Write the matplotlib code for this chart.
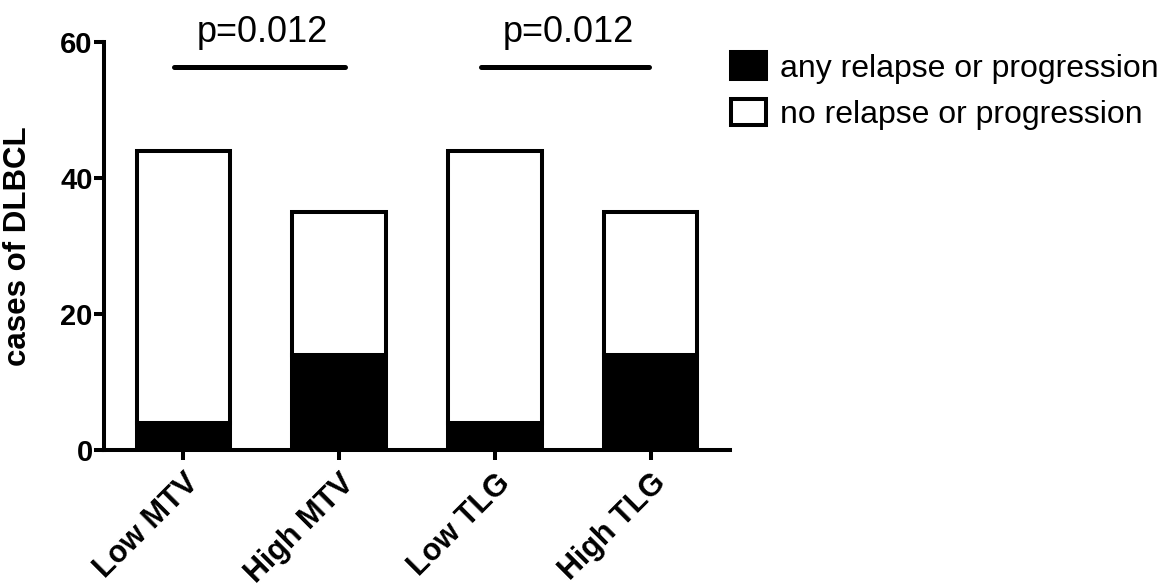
import matplotlib.pyplot as plt
from matplotlib.patches import Patch

plt.rcParams['font.family'] = ['Liberation Sans', 'DejaVu Sans']

# data
groups = ['Low MTV', 'High MTV', 'Low TLG', 'High TLG']
relapse = [4, 14, 4, 14]
no_relapse = [40, 21, 40, 21]
p_labels = ['p=0.012', 'p=0.012']
p_spans = [(-0.06, 1.04), (1.91, 2.99)]
p_y = 56.3

fig = plt.figure(figsize=(11.67, 5.87), dpi=100)
ax = fig.add_axes([0.0891, 0.2334, 0.5364, 0.695])

x = list(range(len(groups)))
ax.bar(x, relapse, width=0.6, color='black', edgecolor='black', linewidth=2.9, zorder=2)
ax.bar(x, no_relapse, bottom=relapse, width=0.6, color='white', edgecolor='black',
       linewidth=2.9, zorder=2)

# significance lines
for (x0, x1), txt in zip(p_spans, p_labels):
    ax.plot([x0, x1], [p_y, p_y], color='black', lw=3.6, solid_capstyle='round',
            clip_on=False)
    ax.text((x0 + x1) / 2 + 0.02, 60.0, txt, ha='center', va='baseline', fontsize=26)

ax.set_xlim(-0.51, 3.51)
ax.set_ylim(0, 60)
ax.set_yticks([0, 20, 40, 60])
ax.set_xticks(x)
ax.set_xticklabels(groups, rotation=45, ha='right', rotation_mode='anchor',
                   fontsize=22, fontweight='bold')
for lab in ax.get_yticklabels():
    lab.set_fontsize(21)
    lab.set_fontweight('bold')
ax.tick_params(axis='y', width=2.9, length=7, direction='out', pad=1)
ax.tick_params(axis='x', width=2.9, length=7, direction='out', pad=6)
ax.set_ylabel('cases of DLBCL', fontsize=22.5, fontweight='bold')
ax.yaxis.set_label_coords(-0.113, 0.5)

for s in ['top', 'right']:
    ax.spines[s].set_visible(False)
for s in ['left', 'bottom']:
    ax.spines[s].set_linewidth(2.9)

handles = [Patch(facecolor='black', edgecolor='black', linewidth=2.9),
           Patch(facecolor='white', edgecolor='black', linewidth=2.9)]
fig.legend(handles, ['any relapse or progression', 'no relapse or progression'],
           loc='upper left', bbox_to_anchor=(0.626, 0.911), frameon=False,
           fontsize=23, handlelength=1.1, handleheight=0.9, handletextpad=0.45,
           labelspacing=0.48, borderpad=0, borderaxespad=0)

fig.savefig('out.png', dpi=100)
